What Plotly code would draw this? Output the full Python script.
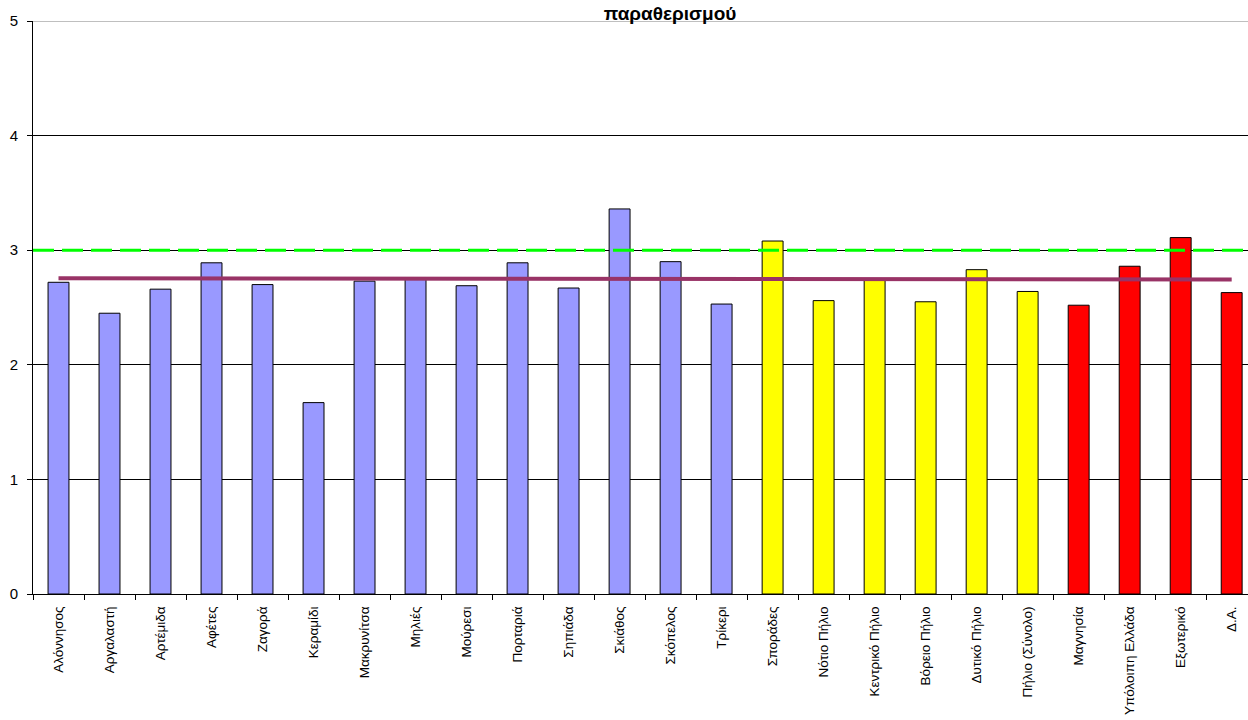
import plotly.graph_objects as go

categories = ["Αλόννησος", "Αργαλαστή", "Αρτέμιδα", "Αφέτες", "Ζαγορά", "Κεραμίδι",
              "Μακρυνίτσα", "Μηλιές", "Μούρεσι", "Πορταριά", "Σηπιάδα", "Σκιάθος",
              "Σκόπελος", "Τρίκερι", "Σποράδες", "Νότιο Πήλιο", "Κεντρικό Πήλιο",
              "Βόρειο Πήλιο", "Δυτικό Πήλιο", "Πήλιο (Σύνολο)", "Μαγνησία",
              "Υπόλοιπη Ελλάδα", "Εξωτερικό", "Δ.Α."]
values = [2.72, 2.45, 2.66, 2.89, 2.70, 1.67, 2.73, 2.75, 2.69, 2.89, 2.67, 3.36,
          2.90, 2.53, 3.08, 2.56, 2.75, 2.55, 2.83, 2.64, 2.52, 2.86, 3.11, 2.63]
groups = ["area"] * 14 + ["region"] * 6 + ["origin"] * 4
group_colors = {"area": "#9999FF", "region": "#FFFF00", "origin": "#FF0000"}

mean_x = [categories[0], categories[-1]]
mean_y = [2.755, 2.745]
reference_level = 3.0

title_text = "παραθερισμού"

fig = go.Figure()
fig.add_trace(go.Bar(
    x=categories, y=values,
    marker=dict(color=[group_colors[g] for g in groups],
                line=dict(color="#000000", width=1)),
    width=0.41, showlegend=False, hoverinfo="x+y",
))
fig.add_trace(go.Scatter(
    x=mean_x, y=mean_y, mode="lines",
    line=dict(color="#993366", width=4), showlegend=False,
))
fig.add_shape(type="line", xref="paper", yref="y", x0=0, x1=1,
              y0=reference_level, y1=reference_level,
              line=dict(color="#00FF00", width=3, dash="21px,8px"), layer="above")
fig.add_shape(type="line", xref="paper", yref="y", x0=0, x1=1, y0=5, y1=5,
              line=dict(color="#808080", width=1), layer="below")

fig.update_layout(
    width=1248, height=720,
    margin=dict(l=33, r=0, t=21, b=126),
    paper_bgcolor="white", plot_bgcolor="white",
    font=dict(family="Arial, Liberation Sans, sans-serif", color="#000000"),
    title=dict(text="<b>" + title_text + "</b>", font=dict(size=19),
               x=670 / 1248, xanchor="center", xref="container",
               y=1 - 13 / 720, yanchor="middle", yref="container"),
    xaxis=dict(type="category", range=[-0.5, 23.32], tickangle=-90,
               tickfont=dict(size=13.5), showline=True, linecolor="#000000",
               linewidth=1, ticks="outside", ticklen=5, tickcolor="#000000",
               tickson="boundaries", showgrid=False, automargin=False,
               ticklabelstandoff=6),
    yaxis=dict(range=[0, 5], dtick=1, tickfont=dict(size=15), showline=True,
               linecolor="#000000", linewidth=1, ticks="outside", ticklen=5,
               tickcolor="#000000", showgrid=True, gridcolor="#000000",
               gridwidth=1, zeroline=False, automargin=False,
               ticklabelstandoff=6),
    bargap=0.59,
)

fig.write_html("out.html", config={"displayModeBar": False},
               post_script="document.body.style.margin='0';"
                           "document.body.style.overflow='hidden';")
